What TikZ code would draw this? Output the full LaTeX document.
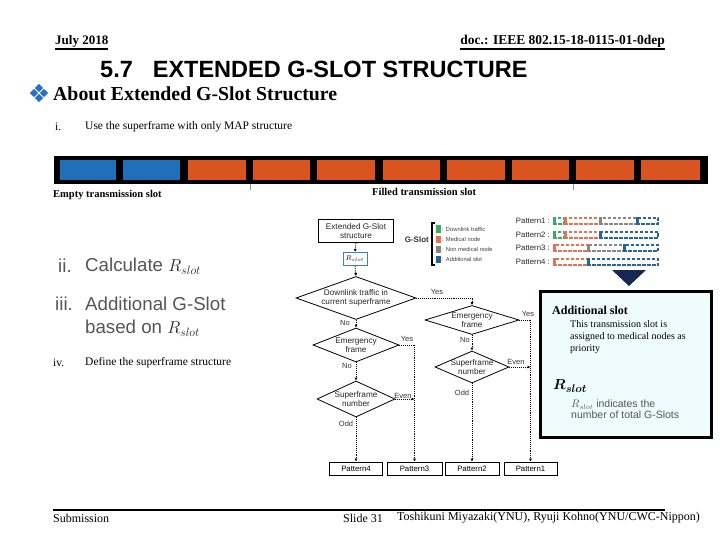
\documentclass[tikz,border=0pt]{standalone}
\usepackage{fontspec}
\setmainfont{Liberation Serif}
\setsansfont{Liberation Sans}
\usepackage{bm}
\usetikzlibrary{shapes.geometric,arrows.meta}
\definecolor{slotblue}{RGB}{31,111,186}
\definecolor{slotorange}{RGB}{218,84,32}
\definecolor{bulletblue}{RGB}{40,110,200}
\definecolor{rblue}{RGB}{60,130,190}
\definecolor{pgreen}{RGB}{60,170,100}
\definecolor{porange}{RGB}{225,115,85}
\definecolor{pgray}{RGB}{135,135,135}
\definecolor{pblue}{RGB}{40,100,150}
\definecolor{navy}{RGB}{20,40,80}
\definecolor{infobg}{RGB}{238,252,253}
\definecolor{txtgray}{RGB}{85,85,85}
\newcommand\patseg[4]{%
  \draw[#1, line width=1.2pt, dash pattern=on 3.5pt off 1.5pt] (#2,#4-3) rectangle (#3,#4+3);
  \fill[#1] (#2-0.6,#4-3.6) rectangle (#2+1.6,#4+3.6);}
\begin{document}
\begin{tikzpicture}[x=1pt,y=-1pt,
  fc/.style={font=\fontsize{8.2}{9}\selectfont\sffamily, align=center, text=black!85},
  fbox/.style={draw, line width=0.8pt, inner sep=0pt},
  dia/.style={diamond, draw, line width=0.8pt, inner sep=0pt},
  flow/.style={densely dotted, line width=0.9pt},
  arr/.style={flow, -{Latex[length=3pt,width=3pt]}},
  lab/.style={font=\fontsize{7.5}{8}\selectfont\sffamily, inner sep=1pt, text=black!80},
  pbox/.style={draw, line width=0.8pt, inner sep=0pt, minimum height=13, font=\fontsize{7.8}{8.5}\selectfont\sffamily},
  body/.style={anchor=west, inner sep=0pt, font=\fontsize{11.5}{13}\selectfont},
  big/.style={anchor=west, inner sep=0pt, font=\fontsize{18.7}{21}\selectfont\sffamily, text=txtgray},
]
\useasboundingbox (0,0) rectangle (720,540);

% header
\node[anchor=base west, inner sep=0pt, font=\fontsize{13}{15}\selectfont\bfseries] (date) at (55,45) {July 2018};
\node[anchor=base east, inner sep=0pt, font=\fontsize{13.5}{15}\selectfont\bfseries] (doc) at (665,45) {doc.: IEEE 802.15-18-0115-01-0dep};
\draw[line width=1.2pt] ([yshift=-1pt]date.south west) -- ([yshift=-1pt]date.south east);
\draw[line width=1.2pt] ([yshift=-1pt]doc.south west) -- ([yshift=-1pt]doc.south east);

% title
\node[anchor=west, inner sep=0pt, font=\fontsize{23.5}{27}\selectfont\sffamily\bfseries] (title) at (100,69) {5.7\hspace{20pt}EXTENDED G-SLOT STRUCTURE};

% bullet
\foreach \dx/\dy in {0/-5,-5/0,5/0,0/5}
  \fill[bulletblue] (39+\dx,93+\dy-4.2) -- (39+\dx+4.2,93+\dy) -- (39+\dx,93+\dy+4.2) -- (39+\dx-4.2,93+\dy) -- cycle;
\node[anchor=west, inner sep=0pt, font=\fontsize{19.8}{22}\selectfont\bfseries] (about) at (53,94) {About Extended G-Slot Structure};

% item i
\node[body] (n1) at (55,127) {i.};
\node[body] (t1) at (85,127) {Use the superframe with only MAP structure};

% superframe bar
\fill[black] (54,156) rectangle (708,184);
\foreach \a/\b in {60/116,123/180}
  \fill[slotblue] (\a,160) rectangle (\b,180);
\foreach \a/\b in {188/246,253/310,317/375,383/440,447/505,512/569,576/634,641/700}
  \fill[slotorange] (\a,160) rectangle (\b,180);
\draw[black!40, line width=0.4pt] (250,184) -- (250,190);
\draw[black!40, line width=0.4pt] (573,184) -- (573,190);
\node[anchor=west, inner sep=0pt, font=\fontsize{10.5}{12}\selectfont\bfseries] (empty) at (53,195) {Empty transmission slot};
\node[anchor=west, inner sep=0pt, font=\fontsize{10.5}{12}\selectfont\bfseries] (filled) at (372,192) {Filled transmission slot};

% ii, iii, iv
\node[big] (n2) at (58,266) {ii.};
\node[big] (t2) at (85,266) {Calculate \textcolor{black!85}{$R_{slot}$}};
\node[big] (n3) at (55,304) {iii.};
\node[big] (t3) at (85,304) {Additional G-Slot};
\node[big] (t3b) at (85,328) {based on \textcolor{black!85}{$R_{slot}$}};
\node[body] (n4) at (53,363) {iv.};
\node[body] (t4) at (85,363) {Define the superframe structure};

% flowchart
\node[fbox, minimum width=75, minimum height=23, fc] (ext) at (356,231) {Extended G-Slot\\structure};
\node[draw=rblue, line width=1pt, minimum width=24, minimum height=13, inner sep=0pt, font=\fontsize{7}{7}\selectfont] (rs) at (355,259) {$R_{slot}$};
\node[dia, minimum width=120, minimum height=43] (d1) at (356,298) {};
\node[fc] at (d1) {Downlink traffic in\\current superframe};
\node[dia, minimum width=94, minimum height=29] (d2) at (472,320) {};
\node[fc] at (d2) {Emergency\\frame};
\node[dia, minimum width=86, minimum height=34] (d3) at (356,345) {};
\node[fc] at (d3) {Emergency\\frame};
\node[dia, minimum width=78, minimum height=36] (d4) at (356,399) {};
\node[fc] at (d4) {Superframe\\number};
\node[dia, minimum width=74, minimum height=32] (d5) at (472,367) {};
\node[fc] at (d5) {Superframe\\number};

\node[pbox, minimum width=53] (p4) at (356,468.5) {Pattern4};
\node[pbox, minimum width=55] (p3) at (414.5,468.5) {Pattern3};
\node[pbox, minimum width=54] (p2) at (472,468.5) {Pattern2};
\node[pbox, minimum width=53] (p1) at (530.5,468.5) {Pattern1};

\draw[arr] (ext.south) -- (rs.north);
\draw[arr] (rs.south) -- (d1.north);
\draw[arr] (d1.east) -- (d1.east -| d2.north) -- (d2.north);
\draw[arr] (d1.south) -- (d3.north);
\draw[arr] (d2.east) -| (p1.north);
\draw[arr] (d2.south) -- (d5.north);
\draw[arr] (d5.east) -- (d5.east -| p1.north);
\draw[arr] (d5.south) -- (p2.north);
\draw[arr] (d3.east) -| (p3.north);
\draw[arr] (d3.south) -- (d4.north);
\draw[arr] (d4.east) -- (d4.east -| p3.north);
\draw[arr] (d4.south) -- (p4.north);

\node[lab] at (437,292) {Yes};
\node[lab] at (345,323) {No};
\node[lab] at (528,314) {Yes};
\node[lab] at (465,340) {No};
\node[lab] at (516,362) {Even};
\node[lab] at (462,393) {Odd};
\node[lab] at (407,339) {Yes};
\node[lab] at (347,366) {No};
\node[lab] at (403,396) {Even};
\node[lab] at (346,424) {Odd};

% legend
\node[anchor=east, inner sep=0pt, font=\fontsize{8}{8}\selectfont\sffamily\bfseries, text=black!80] (gslot) at (429,240) {G-Slot};
\draw[line width=1.2pt] (434.5,223) -- (432,223) -- (432,265) -- (434.5,265);
\foreach \c/\y/\t in {pgreen/229/{: Downlink traffic}, porange/239/{: Medical node}, pgray/249/{: Non medical node}, pblue/259/{: Additional slot}} {
  \fill[\c] (436,\y-3.5) rectangle (441,\y+3.5);
  \node[anchor=west, inner sep=0pt, font=\fontsize{5.8}{6}\selectfont\sffamily, text=black!75] at (442,\y) {\t};
}

% patterns
\foreach \i/\y in {1/221,2/235,3/248,4/262}
  \node[anchor=east, inner sep=0pt, font=\fontsize{7.8}{8}\selectfont\sffamily, text=black!85] (pl\i) at (550,\y) {Pattern\i\ :};
\patseg{pgreen}{554}{564}{221}
\patseg{porange}{565}{600}{221}
\patseg{pgray}{600}{637}{221}
\patseg{pblue}{637}{658}{221}
\patseg{pgreen}{554}{564}{235}
\patseg{porange}{565}{600}{235}
\patseg{pblue}{600}{658}{235}
\patseg{porange}{554}{588}{248}
\patseg{pgray}{588}{624}{248}
\patseg{pblue}{624}{658}{248}
\patseg{porange}{554}{588}{262}
\patseg{pblue}{588}{658}{262}

% arrow triangle
\fill[navy] (612,270) -- (646,270) -- (629,286) -- cycle;

% info box
\node[draw, line width=3pt, fill=infobg, minimum width=171, minimum height=146, inner sep=0pt] (info) at (626,364) {};
\node[anchor=west, inner sep=0pt, font=\fontsize{12}{14}\selectfont\bfseries] (addl) at (552,310) {Additional slot};
\node[anchor=north west, inner sep=0pt, align=left, font=\fontsize{10}{12.3}\selectfont] (desc) at (570,320) {This transmission slot is\\assigned to medical nodes as\\priority};
\node[anchor=west, inner sep=0pt, font=\fontsize{15}{17}\selectfont] (rsl) at (553,386) {$\bm{R_{slot}}$};
\node[anchor=north west, inner sep=0pt, align=left, font=\fontsize{10.5}{11}\selectfont\sffamily, text=txtgray] (rdesc) at (571,400) {$R_{slot}$ indicates the\\number of total G-Slots};

% footer
\draw[line width=1.5pt] (53,510) -- (665,510);
\node[anchor=west, inner sep=0pt, font=\fontsize{12}{14}\selectfont] (sub) at (53,518) {Submission};
\node[anchor=west, inner sep=0pt, font=\fontsize{12}{14}\selectfont] (slide) at (343,518) {Slide 31};
\node[anchor=west, inner sep=0pt, font=\fontsize{12}{14}\selectfont] (auth) at (397,518) {Toshikuni Miyazaki(YNU), Ryuji Kohno(YNU/CWC-Nippon)};
\end{tikzpicture}
\end{document}
